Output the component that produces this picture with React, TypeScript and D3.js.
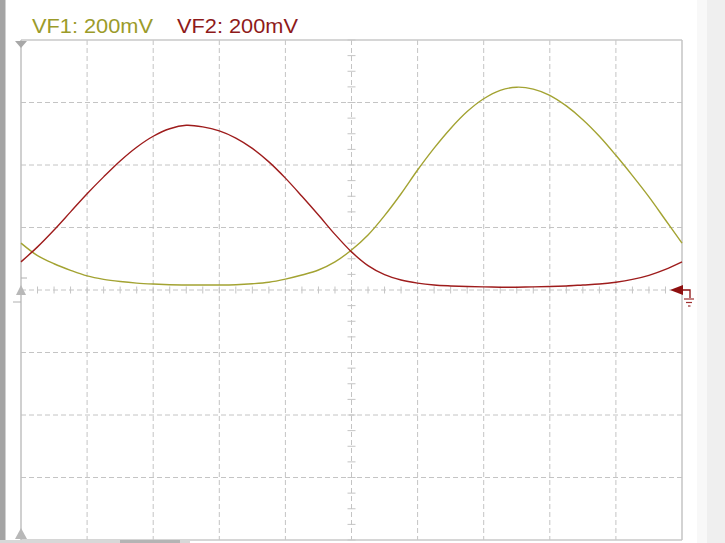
import React from "react";
import * as d3 from "d3";

// time in divisions (10 horizontal divisions)
const timeDiv = [
  0, 0.25, 0.5, 0.75, 1, 1.25, 1.5, 1.75, 2, 2.25, 2.5, 2.75, 3, 3.25, 3.5, 3.75,
  4, 4.25, 4.5, 4.75, 5, 5.25, 5.5, 5.75, 6, 6.25, 6.5, 6.75, 7, 7.25, 7.5, 7.75,
  8, 8.25, 8.5, 8.75, 9, 9.25, 9.5, 9.75, 10,
];

// VF1 (mV)
const vf1 = [
  150, 110, 84, 63, 45, 34, 27, 22, 19, 17, 16, 16, 16, 17, 20, 25,
  35, 48, 64, 90, 128, 176, 238, 308, 384, 454, 517, 571, 612, 639, 649, 643,
  623, 589, 545, 492, 431, 366, 298, 224, 150,
];

// VF2 (mV)
const vf2 = [
  90, 138, 192, 250, 308, 362, 413, 457, 492, 516, 527, 522, 509, 486, 453, 410,
  358, 300, 240, 178, 122, 78, 49, 32, 22, 16, 13, 11, 10, 9, 9, 10,
  11, 13, 16, 19, 25, 34, 47, 66, 90,
];

const channelLabels = ["VF1: 200mV", "VF2: 200mV"];
const channelColors = ["#a3a332", "#9e1c1c"];
const labelColors = ["#9b9b2a", "#8e1a1a"];

const W = 725;
const H = 543;
const L = 21, R = 682, T = 40, B = 540;

export default function App() {
  const x = d3.scaleLinear().domain([0, 10]).range([L, R]);
  const y = d3.scaleLinear().domain([-800, 800]).range([B, T]);

  const line = d3
    .line<number>()
    .x((_, i) => x(timeDiv[i]))
    .y((d) => y(d))
    .curve(d3.curveCatmullRom.alpha(0.5));

  const vTicks = d3.range(1, 10);
  const hTicks = d3.range(-600, 801, 200).filter((v) => v !== 800 && v !== -800);
  const minorX = d3.range(0, 10.01, 0.25);
  const minorY = d3.range(-800, 800.1, 50);
  const gridColor = "#c4c4c4";
  const x0 = x(5);
  const y0 = y(0);

  return (
    <svg
      width={W}
      height={H}
      style={{ position: "absolute", left: 0, top: 0, background: "#fff" }}
      fontFamily="'Liberation Sans', Arial, sans-serif"
    >
      <rect x={0} y={0} width={W} height={H} fill="#fff" />
      {/* left dark bar */}
      <rect x={0} y={0} width={5.5} height={H} fill="#a4a4a4" />
      {/* right panels */}
      <rect x={697} y={0} width={10} height={H} fill="#f8f8f8" />
      <rect x={707} y={0} width={18} height={H} fill="#efefef" />

      {/* labels */}
      {channelLabels.map((t, i) => (
        <text
          key={t}
          x={i === 0 ? 32 : 177}
          y={33}
          fontSize={21}
          fill={labelColors[i]}
          textLength={121}
          lengthAdjust="spacingAndGlyphs"
        >
          {t}
        </text>
      ))}

      {/* grid */}
      {vTicks.map((d) => (
        <line
          key={"v" + d}
          x1={x(d)}
          x2={x(d)}
          y1={T}
          y2={B}
          stroke={gridColor}
          strokeWidth={1}
          strokeDasharray="5,3"
        />
      ))}
      {hTicks.map((d) => (
        <line
          key={"h" + d}
          x1={L}
          x2={R}
          y1={y(d)}
          y2={y(d)}
          stroke={gridColor}
          strokeWidth={1}
          strokeDasharray="5,3"
        />
      ))}
      {/* minor ticks on center axes */}
      {minorX.map((d) => (
        <line
          key={"mx" + d}
          x1={x(d)}
          x2={x(d)}
          y1={y0 - 3.5}
          y2={y0 + 3.5}
          stroke={gridColor}
          strokeWidth={1}
        />
      ))}
      {minorY.map((d) => (
        <line
          key={"my" + d}
          x1={x0 - 4}
          x2={x0 + 4}
          y1={y(d)}
          y2={y(d)}
          stroke={gridColor}
          strokeWidth={1}
        />
      ))}

      {/* frame */}
      <line x1={L} x2={R} y1={T} y2={T} stroke="#c8c8c8" strokeWidth={1.5} />
      <line x1={L} x2={R} y1={B} y2={B} stroke="#c8c8c8" strokeWidth={1.5} />
      <line x1={L} x2={L} y1={T} y2={B} stroke="#c0c0c0" strokeWidth={1.5} />
      <line x1={R} x2={R} y1={T} y2={B} stroke="#c4c4c4" strokeWidth={1.5} />

      {/* bottom scroll strip */}
      <rect x={0} y={540} width={190} height={3} fill="#d8d8d8" />
      <rect x={120} y={540} width={60} height={3} fill="#b4b4b4" />

      {/* left markers */}
      <path d={`M${L - 6},${T + 1} L${L + 6},${T + 1} L${L},${T + 8} Z`} fill="#a8a8a8" />
      <path d={`M${L - 6},${B - 1} L${L + 6},${B - 1} L${L},${B - 12} Z`} fill="#b8b8b8" />
      <path d={`M${L - 5},${y0 + 5} L${L + 5},${y0 + 5} L${L},${y0 - 5} Z`} fill="#b8b8b8" />
      <line x1={L} x2={L + 6} y1={y0 - 12} y2={y0 - 12} stroke="#b0b0b0" />
      <line x1={L - 8} x2={L} y1={y0 + 12} y2={y0 + 12} stroke="#b0b0b0" />

      {/* waveforms */}
      <path d={line(vf1) || ""} fill="none" stroke={channelColors[0]} strokeWidth={1.4} />
      <path d={line(vf2) || ""} fill="none" stroke={channelColors[1]} strokeWidth={1.4} />

      {/* right ground marker */}
      <path d={`M${R - 12},${y0} L${R + 1},${y0 - 5} L${R + 1},${y0 + 5} Z`} fill="#8e1010" />
      <path
        d={`M${R},${y0} L${R + 8},${y0} L${R + 8},${y0 + 8}`}
        fill="none"
        stroke="#8e1010"
        strokeWidth={1.3}
      />
      <line x1={R + 2} x2={R + 12} y1={y0 + 9} y2={y0 + 9} stroke="#9e3030" strokeWidth={1.2} />
      <line x1={R + 4} x2={R + 10} y1={y0 + 12.5} y2={y0 + 12.5} stroke="#9e3030" strokeWidth={1.2} />
      <line x1={R + 6} x2={R + 8.5} y1={y0 + 16} y2={y0 + 16} stroke="#9e3030" strokeWidth={1.2} />
    </svg>
  );
}
